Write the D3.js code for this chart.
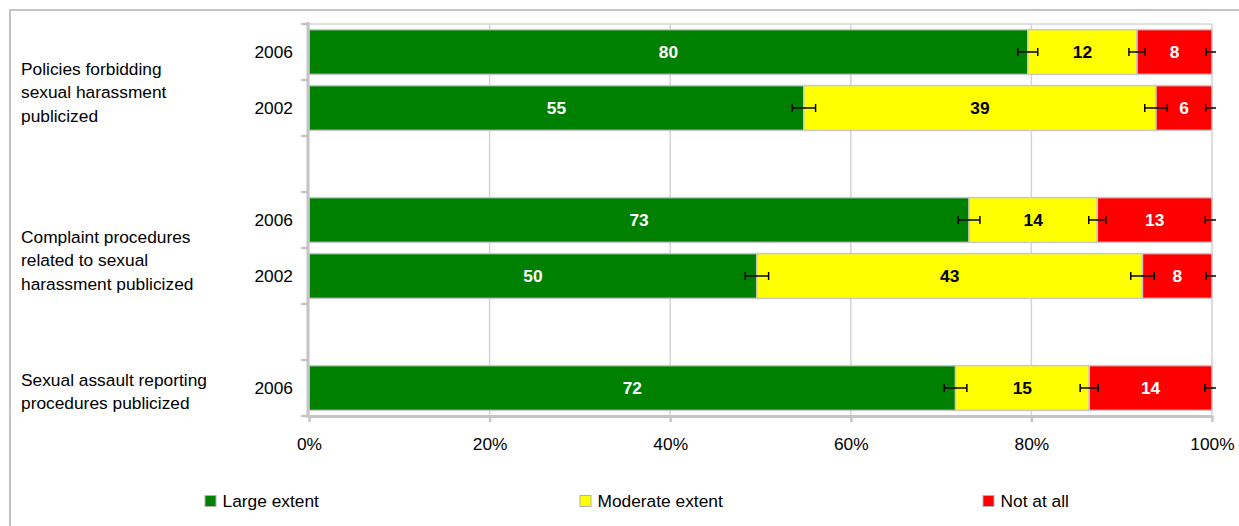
<!DOCTYPE html>
<html>
<head>
<meta charset="utf-8">
<script src="https://cdn.jsdelivr.net/npm/d3@7"></script>
<style>
  body { margin: 0; background: #fff; }
  svg { display: block; font-family: "Liberation Sans", Arial, sans-serif; }
</style>
</head>
<body>
<svg id="chart" width="1239" height="526"></svg>
<script>
// ---- data ----
const rowKeys = ["r1", "r2", "gap1", "r3", "r4", "gap2", "r5"];
const dataRows = ["r1", "r2", "r3", "r4", "r5"];
const years = ["2006", "2002", "2006", "2002", "2006"];
const groupLabels = [
  ["Policies forbidding", "sexual harassment", "publicized"],
  ["Complaint procedures", "related to sexual", "harassment publicized"],
  ["Sexual assault reporting", "procedures publicized"]
];
const groupRows = [["r1", "r2"], ["r3", "r4"], ["r5"]];
const seriesNames = ["Large extent", "Moderate extent", "Not at all"];
const largeExtent = [79.6, 54.8, 73.1, 49.6, 71.6];
const moderateExtent = [12.1, 39.0, 14.2, 42.7, 14.8];
const notAtAll = [8.3, 6.2, 12.7, 7.7, 13.6];
const largeErr = [1.1, 1.3, 1.2, 1.3, 1.25];
const moderateErr = [0.9, 1.25, 0.95, 1.3, 1.0];
const notAtAllErr = [0.65, 0.7, 0.75, 0.65, 0.8];
const xTicks = [0, 20, 40, 60, 80, 100];

// ---- styles ----
const colors = ["#008000", "#ffff00", "#ff0000"];
const labelColors = ["#ffffff", "#000000", "#ffffff"];
const FS = "17.33px";

const svg = d3.select("#chart");

// outer border
svg.append("rect").attr("x", 10).attr("y", 10).attr("width", 1260).attr("height", 560)
  .attr("fill", "none").attr("stroke", "#c4c4c4").attr("stroke-width", 2);

const x = d3.scaleLinear().domain([0, 100]).range([309, 1212]);
const y = d3.scaleBand().domain(rowKeys).range([24, 416]).paddingInner(0.2).paddingOuter(0.1);
const half = y.step() * y.paddingInner() / 2;

svg.append("defs").append("clipPath").attr("id", "errclip")
  .append("rect").attr("x", 0).attr("y", 0).attr("width", x(100) + 4).attr("height", 526);

// frame top
svg.append("line").attr("x1", x(0)).attr("x2", x(100)).attr("y1", 24).attr("y2", 24)
  .attr("stroke", "#d4d4d4").attr("stroke-width", 1.5);

// gridlines
svg.append("g").selectAll("line").data(xTicks.filter(d => d > 0)).join("line")
  .attr("x1", d => x(d)).attr("x2", d => x(d)).attr("y1", 24).attr("y2", 416)
  .attr("stroke", "#d4d4d4").attr("stroke-width", 1.5);

// stacked bars
const series = [largeExtent, moderateExtent, notAtAll];
const errs = [largeErr, moderateErr, notAtAllErr];
const segs = [];
dataRows.forEach((r, i) => {
  let acc = 0;
  series.forEach((s, k) => {
    segs.push({ row: r, k, x0: acc, x1: acc + s[i], v: s[i], err: errs[k][i] });
    acc += s[i];
  });
});

svg.append("g").selectAll("rect").data(segs).join("rect")
  .attr("x", d => x(d.x0)).attr("width", d => x(d.x1) - x(d.x0))
  .attr("y", d => y(d.row)).attr("height", y.bandwidth())
  .attr("fill", d => colors[d.k]).attr("stroke", "#c8c8c8").attr("stroke-width", 1.5);

// value labels
svg.append("g").selectAll("text").data(segs).join("text")
  .attr("x", d => (x(d.x0) + x(d.x1)) / 2)
  .attr("y", d => y(d.row) + y.bandwidth() / 2)
  .attr("dy", "0.36em").attr("text-anchor", "middle")
  .attr("font-size", FS).attr("font-weight", "bold")
  .attr("fill", d => labelColors[d.k])
  .text(d => Math.round(d.v));

// error bars
const eg = svg.append("g").attr("stroke", "#000").attr("stroke-width", 1.5).attr("clip-path", "url(#errclip)");
segs.forEach(d => {
  const cy = y(d.row) + y.bandwidth() / 2;
  eg.append("line").attr("x1", x(d.x1 - d.err)).attr("x2", x(d.x1 + d.err)).attr("y1", cy).attr("y2", cy);
  [d.x1 - d.err, d.x1 + d.err].forEach(v => {
    eg.append("line").attr("x1", x(v)).attr("x2", x(v)).attr("y1", cy - 4).attr("y2", cy + 4);
  });
});

// left axis
const bounds = rowKeys.map(k => y(k) - half).concat([416]);
svg.append("line").attr("x1", 308).attr("x2", 308).attr("y1", 22).attr("y2", 417.5)
  .attr("stroke", "#c4c4c4").attr("stroke-width", 3);
svg.append("g").selectAll("line").data(bounds).join("line")
  .attr("x1", 301).attr("x2", 308).attr("y1", d => d).attr("y2", d => d)
  .attr("stroke", "#c4c4c4").attr("stroke-width", 2.5);

// bottom axis
const xa = svg.append("g").attr("transform", "translate(0,416)")
  .call(d3.axisBottom(x).tickValues(xTicks).tickFormat(d => d + "%").tickSize(6).tickSizeOuter(0).tickPadding(22));
xa.select(".domain").attr("stroke", "#c4c4c4").attr("stroke-width", 3);
xa.selectAll(".tick line").attr("stroke", "#c4c4c4").attr("stroke-width", 2.5);
xa.selectAll(".tick text").attr("font-size", FS).attr("font-family", "Liberation Sans, Arial, sans-serif").attr("fill", "#000").attr("dy", "0.36em").attr("y", 28);

// year labels
svg.append("g").selectAll("text").data(dataRows).join("text")
  .attr("x", 293).attr("y", d => y(d) + y.bandwidth() / 2).attr("dy", "0.36em")
  .attr("text-anchor", "end").attr("font-size", FS)
  .text((d, i) => years[i]);

// group labels
const lineH = 23.3;
groupLabels.forEach((lines, gi) => {
  const rows = groupRows[gi];
  const c0 = y(rows[0]) + y.bandwidth() / 2;
  const c1 = y(rows[rows.length - 1]) + y.bandwidth() / 2;
  const nudge = lines.length === 3 ? 12 : 3.5;
  const center = (c0 + c1) / 2 + nudge;
  const top = center - (lines.length - 1) * lineH / 2;
  const t = svg.append("text").attr("font-size", FS);
  lines.forEach((ln, li) => {
    t.append("tspan").attr("x", 21).attr("y", top + li * lineH).attr("dy", "0.36em").text(ln);
  });
});

// legend
const legendX = [205, 580, 983];
const lg = svg.append("g");
seriesNames.forEach((name, k) => {
  lg.append("rect").attr("x", legendX[k]).attr("y", 495.5).attr("width", 11).attr("height", 11)
    .attr("fill", colors[k]).attr("stroke", "#b0b0b0").attr("stroke-width", 1);
  lg.append("text").attr("x", legendX[k] + 17.5).attr("y", 501).attr("dy", "0.36em")
    .attr("font-size", FS).text(name);
});
</script>
</body>
</html>
